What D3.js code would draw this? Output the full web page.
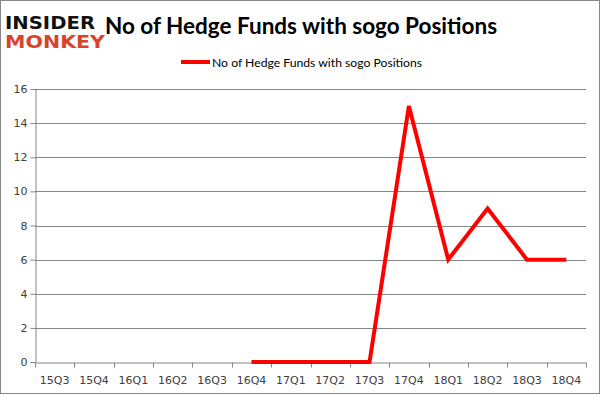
<!DOCTYPE html>
<html><head><meta charset="utf-8">
<script src="https://cdn.jsdelivr.net/npm/d3@7"></script>
<style>body{margin:0;background:#fff}svg{display:block}</style>
</head><body>
<svg id="c" width="601" height="395"></svg>
<script>
const categories = ["15Q3","15Q4","16Q1","16Q2","16Q3","16Q4","17Q1","17Q2","17Q3","17Q4","18Q1","18Q2","18Q3","18Q4"];
const values = [null,null,null,null,null,0,0,0,0,15,6,9,6,6];
const yTicks = [0,2,4,6,8,10,12,14,16];
const title = "No of Hedge Funds with sogo Positions";
const seriesName = "No of Hedge Funds with sogo Positions";

(function(){
const svg = d3.select("#c");
svg.append("rect").attr("x",0.5).attr("y",0.5).attr("width",599).attr("height",393)
  .attr("fill","#fff").attr("stroke","#868686").attr("stroke-width",1);

const mLeft = 35, mRight = 586, mTop = 89, mBottom = 362;
const x = d3.scaleBand().domain(categories).range([mLeft,mRight]);
const y = d3.scaleLinear().domain([0,16]).range([mBottom,mTop]);

// gridlines
svg.append("g").selectAll("line").data(yTicks.filter(d=>d>0)).join("line")
  .attr("x1",mLeft).attr("x2",mRight)
  .attr("y1",d=>Math.round(y(d))+0.5).attr("y2",d=>Math.round(y(d))+0.5)
  .attr("stroke","#868686").attr("stroke-width",1);

// y axis
const ya = svg.append("g").attr("transform",`translate(${mLeft+0.5},0)`)
  .call(d3.axisLeft(y).tickValues(yTicks).tickSize(5).tickSizeOuter(0).tickPadding(3));
ya.select(".domain").attr("stroke","#868686");
ya.selectAll(".tick line").attr("stroke","#868686");
ya.selectAll(".tick text").attr("fill","#404040").style("font-family","'DejaVu Sans', Verdana, sans-serif").style("font-size","11px");

// x axis
const xa = svg.append("g").attr("transform",`translate(0,${Math.round(mBottom)+0.5})`)
  .call(d3.axisBottom(x).tickSize(0).tickPadding(14));
xa.select(".domain").attr("stroke","#868686");
xa.selectAll(".tick text").attr("fill","#404040").style("font-family","'DejaVu Sans', Verdana, sans-serif").style("font-size","11px");
const bounds = categories.map(c=>x(c)).concat([mRight]);
xa.append("g").selectAll("line").data(bounds).join("line")
  .attr("x1",d=>Math.round(d)+0.5).attr("x2",d=>Math.round(d)+0.5)
  .attr("y1",0).attr("y2",5).attr("stroke","#868686");

// line
const line = d3.line().defined(d=>d.v!==null)
  .x(d=>x(d.c)+x.bandwidth()/2).y(d=>y(d.v));
svg.append("path").datum(categories.map((c,i)=>({c,v:values[i]})))
  .attr("d",line).attr("fill","none").attr("stroke","#ff0000").attr("stroke-width",4)
  .attr("stroke-linejoin","miter");

// title
svg.append("text").attr("x",301).attr("y",34).attr("text-anchor","middle")
  .style("font-family","Lato, 'Open Sans', sans-serif").style("font-weight","bold").style("font-size","22.5px")
  .attr("fill","#000").text(title);

// legend
svg.append("line").attr("x1",181).attr("x2",210).attr("y1",62).attr("y2",62)
  .attr("stroke","#ff0000").attr("stroke-width",4);
svg.append("text").attr("x",212).attr("y",66.5)
  .style("font-family","Lato, 'Open Sans', sans-serif").style("font-size","12.2px")
  .attr("fill","#000").text(seriesName);

// logo
svg.append("text").attr("x",5).attr("y",29).style("font-family","'DejaVu Sans', sans-serif")
  .style("font-weight","900").style("font-size","17px").attr("textLength",90).attr("lengthAdjust","spacingAndGlyphs")
  .attr("fill","#111").text("INSIDER");
svg.append("text").attr("x",5).attr("y",48).style("font-family","'DejaVu Sans', sans-serif")
  .style("font-weight","900").style("font-size","17px").attr("textLength",100).attr("lengthAdjust","spacingAndGlyphs")
  .attr("fill","#d9432b").text("MONKEY");
})();
</script>
</body></html>
